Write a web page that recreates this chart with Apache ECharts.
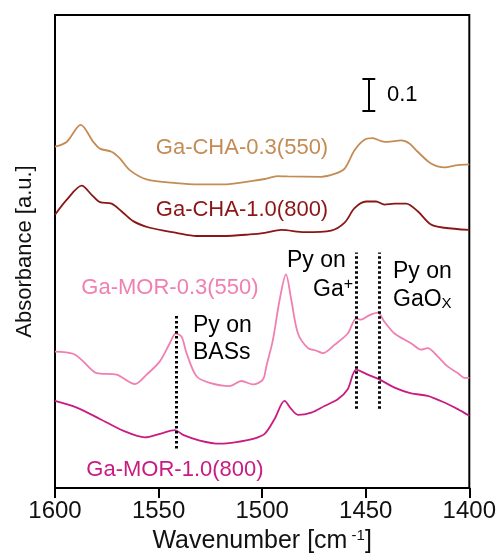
<!DOCTYPE html>
<html><head><meta charset="utf-8">
<script src="https://cdn.jsdelivr.net/npm/echarts@6/dist/echarts.min.js"></script>
<style>html,body{margin:0;padding:0;background:#fff}#c{width:499px;height:559px}</style>
</head><body><div id="c"></div>
<script>
// Wavenumber ticks
const xTicks = [1600, 1550, 1500, 1450, 1400];

// Ga-CHA-0.3(550)
const cha03_x = [1600,1594.4,1587.6,1581.5,1578.3,1572.7,1568.7,1563.9,1555.8,1541.4,1530.1,1519.0,1504.6,1498.8,1492.5,1487.7,1471.5,1465.1,1460.2,1455.4,1450.6,1446.6,1442.6,1439.5,1432.9,1428.9,1424.9,1418.5,1412.0,1405.6,1400];
const cha03_y = [1.078,1.093,1.147,1.093,1.072,1.062,1.041,1.004,0.975,0.963,0.959,0.959,0.970,0.976,0.985,0.984,0.983,0.992,1.009,1.067,1.100,1.105,1.096,1.093,1.098,1.088,1.062,1.025,1.013,1.020,1.022];

// Ga-CHA-1.0(800)
const cha10_x = [1600,1594.4,1587.1,1582.3,1578.3,1572.7,1567.9,1562.3,1554.2,1541.4,1531.7,1518.9,1506.0,1498.8,1490.7,1479.5,1466.7,1460.2,1455.4,1449.8,1445.0,1441.0,1436.1,1430.5,1424.9,1418.5,1412.0,1400];
const cha10_y = [0.863,0.910,0.955,0.926,0.903,0.898,0.874,0.843,0.822,0.806,0.796,0.796,0.801,0.806,0.815,0.808,0.813,0.838,0.884,0.905,0.905,0.895,0.898,0.898,0.874,0.832,0.822,0.815];

// Ga-MOR-0.3(550)
const mor03_x = [1600,1591.2,1586.4,1579.9,1570.3,1561.4,1555.8,1549.4,1544.6,1541.7,1538.9,1536.5,1531.7,1525.3,1515.7,1510.0,1504.4,1499.6,1498.0,1494.8,1491.6,1488.5,1485.9,1482.7,1477.9,1473.9,1470.7,1465.1,1458.7,1454.6,1452.2,1448.2,1444.2,1441.0,1436.1,1428.1,1423.3,1420.1,1415.3,1410.5,1405.6,1402.4,1400];
const mor03_y = [0.431,0.424,0.400,0.363,0.358,0.328,0.358,0.400,0.457,0.488,0.478,0.426,0.353,0.332,0.322,0.338,0.327,0.343,0.384,0.468,0.593,0.675,0.593,0.488,0.442,0.434,0.426,0.452,0.488,0.535,0.532,0.546,0.554,0.525,0.488,0.457,0.437,0.442,0.416,0.384,0.363,0.348,0.348];

// Ga-MOR-1.0(800)
const mor10_x = [1600,1589.5,1578.3,1567.1,1556.6,1549.4,1542.2,1538.2,1530.1,1520.5,1512.4,1504.4,1498.8,1494.0,1489.2,1485.9,1482.7,1476.3,1469.9,1463.5,1458.7,1454.6,1449.0,1443.4,1436.1,1428.1,1420.1,1412.0,1405.6,1400];
const mor10_y = [0.275,0.254,0.218,0.181,0.160,0.171,0.183,0.168,0.150,0.140,0.145,0.155,0.171,0.218,0.275,0.249,0.231,0.238,0.259,0.280,0.312,0.374,0.358,0.343,0.317,0.299,0.291,0.270,0.249,0.228];

// Band markers (wavenumber, y from, y to)
const band_x = [1541.7, 1454.6, 1443.7];
const band_y0 = [0.125, 0.250, 0.250];
const band_y1 = [0.550, 0.744, 0.744];

// Scale bar 0.1
const bar_x = 1448.5;
const bar_y0 = 1.193;
const bar_len = 0.1;

const names = ['Ga-CHA-0.3(550)','Ga-CHA-1.0(800)','Ga-MOR-0.3(550)','Ga-MOR-1.0(800)'];
const colors = ['#c48c55','#8b1616','#f07fb2','#c81c82'];
const xs = [cha03_x, cha10_x, mor03_x, mor10_x];
const ys = [cha03_y, cha10_y, mor03_y, mor10_y];

const FONT = 'Liberation Sans, Arial, sans-serif';
const chart = echarts.init(document.getElementById('c'), null, {renderer:'canvas'});

const series = xs.map((xa, i) => ({
  name: names[i], type: 'line', showSymbol: false, smooth: 0.3,
  lineStyle: {color: colors[i], width: 1.8}, z: 3,
  data: xa.map((x, j) => [x, ys[i][j]])
}));

series.push({
  type: 'lines', coordinateSystem: 'cartesian2d', z: 4,
  lineStyle: {color: '#000', width: 3, type: [2.5, 2.5], opacity: 1},
  data: band_x.map((x, i) => ({coords: [[x, band_y0[i]], [x, band_y1[i]]]}))
});
const cap = 3.1;
series.push({
  type: 'lines', coordinateSystem: 'cartesian2d', z: 4,
  lineStyle: {color: '#000', width: 2, type: 'solid', opacity: 1},
  data: [
    {coords: [[bar_x, bar_y0], [bar_x, bar_y0 + bar_len]]},
    {coords: [[bar_x - cap, bar_y0], [bar_x + cap, bar_y0]]},
    {coords: [[bar_x - cap, bar_y0 + bar_len], [bar_x + cap, bar_y0 + bar_len]]}
  ]
});

function txt(text, x, y, color, size, align, rich) {
  return {type: 'text', x: x, y: y, z: 10,
    style: {text: text, fill: color, font: size + 'px ' + FONT, align: align || 'center', verticalAlign: 'middle', rich: rich}};
}
const supRich = {
  b: {fontSize: 23, fontFamily: FONT, fill: '#000'},
  sup: {fontSize: 16, fontFamily: FONT, fill: '#000', verticalAlign: 'bottom', padding: [0,0,10,0]},
  sub: {fontSize: 15, fontFamily: FONT, fill: '#000', verticalAlign: 'top', padding: [8,0,0,0]}
};

chart.setOption({
  animation: false,
  grid: {left: 55, right: 29, top: 15, bottom: 66, show: true, borderColor: '#000', borderWidth: 2, backgroundColor: 'transparent'},
  xAxis: {
    type: 'value', inverse: true, min: 1400, max: 1600, interval: 50,
    axisLine: {show: true, onZero: false, lineStyle: {color: '#000', width: 2}},
    axisTick: {show: true, inside: false, length: 10, lineStyle: {color: '#000', width: 2}},
    axisLabel: {color: '#111', fontSize: 24, fontFamily: FONT, margin: 11,
      formatter: v => xTicks.includes(v) ? String(v) : ''},
    splitLine: {show: false},
    name: 'Wavenumber [cm{sup| -1}]', nameLocation: 'middle', nameGap: 40,
    nameTextStyle: {color: '#111', fontSize: 25, fontFamily: FONT,
      rich: {sup: {fontSize: 15, fontFamily: FONT, color: '#111', verticalAlign: 'top', padding: [0,0,12,0]}}}
  },
  yAxis: {
    type: 'value', min: 0, max: 1.494,
    axisLine: {show: true, onZero: false, lineStyle: {color: '#000', width: 2}},
    axisTick: {show: false}, axisLabel: {show: false}, splitLine: {show: false},
    name: 'Absorbance [a.u.]', nameLocation: 'middle', nameGap: 19,
    nameTextStyle: {color: '#111', fontSize: 22, fontFamily: FONT}
  },
  series: series,
  graphic: [
    txt(names[0], 242, 148, colors[0], 22),
    txt(names[1], 242, 210, colors[1], 22),
    txt(names[2], 170, 288, colors[2], 22),
    txt(names[3], 175, 470, colors[3], 22),
    txt('Py on', 193, 326, '#000', 23, 'left'),
    txt('BASs', 193, 353, '#000', 23, 'left'),
    txt('Py on', 287, 261, '#000', 23, 'left'),
    {type: 'text', x: 313, y: 290, z: 10, style: {text: '{b|Ga}{sup|+}', align: 'left', verticalAlign: 'middle', rich: supRich}},
    txt('Py on', 393, 272, '#000', 23, 'left'),
    {type: 'text', x: 393, y: 300, z: 10, style: {text: '{b|GaO}{sub|X}', align: 'left', verticalAlign: 'middle', rich: supRich}},
    txt('0.1', 387, 95, '#000', 22, 'left')
  ]
});
</script></body></html>
